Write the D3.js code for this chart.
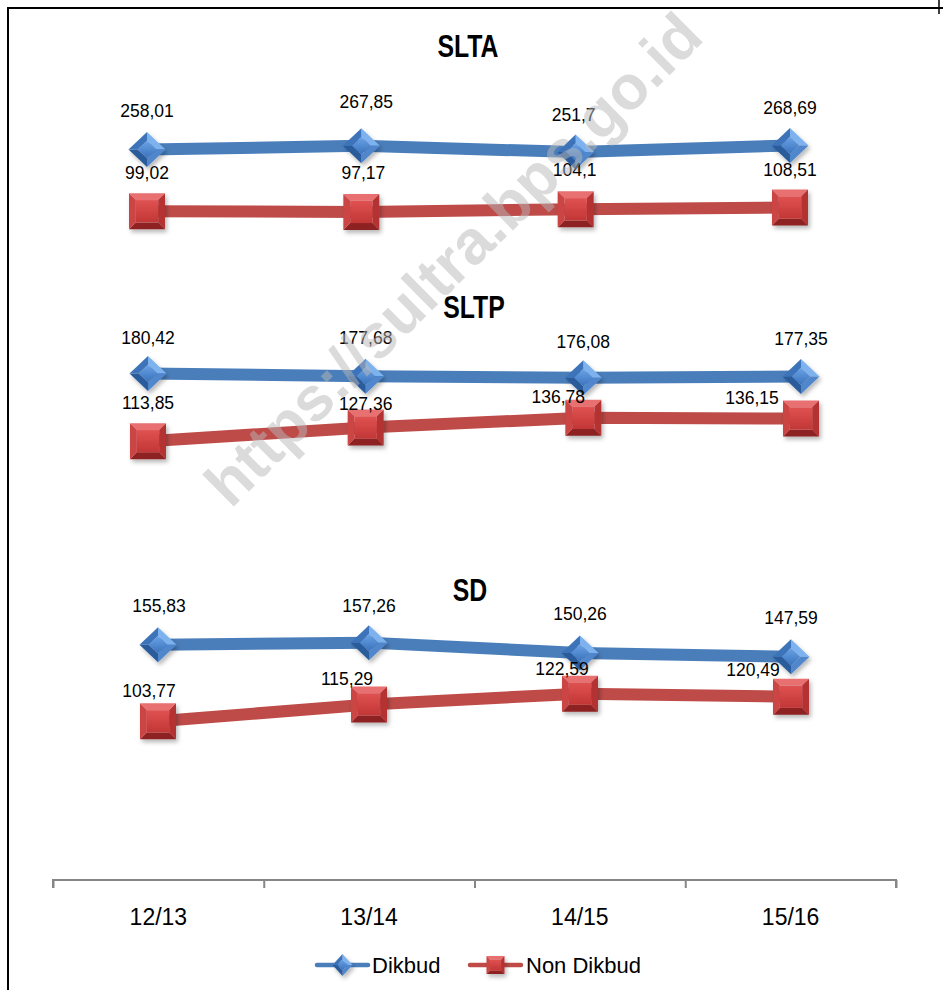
<!DOCTYPE html>
<html>
<head>
<meta charset="utf-8">
<script src="https://cdn.jsdelivr.net/npm/d3@7/dist/d3.min.js"></script>
<style>
  body { margin: 0; background: #fff; }
  svg { display: block; }
</style>
</head>
<body>
<svg id="chart" width="943" height="990"></svg>
<script>
// School-year categories shared by all three panels
const categories = ["12/13", "13/14", "14/15", "15/16"];
const seriesNames = ["Dikbud", "Non Dikbud"];
const panelTitles = ["SLTA", "SLTP", "SD"];

// Values per school level
const sltaDikbud    = [258.01, 267.85, 251.7, 268.69];
const sltaNonDikbud = [99.02, 97.17, 104.1, 108.51];
const sltpDikbud    = [180.42, 177.68, 176.08, 177.35];
const sltpNonDikbud = [113.85, 127.36, 136.78, 136.15];
const sdDikbud      = [155.83, 157.26, 150.26, 147.59];
const sdNonDikbud   = [103.77, 115.29, 122.59, 120.49];

// Each panel has its own value axis (hidden)
const yDomains = [[0, 300], [100, 200], [100, 160]];

const panelValues = [
  [sltaDikbud, sltaNonDikbud],
  [sltpDikbud, sltpNonDikbud],
  [sdDikbud, sdNonDikbud]
];

// ---- layout ----
const W = 943, H = 990;
const panelLayout = [
  { title: [468, 46], xRange: [147, 790], yRange: [249.6, 133.35],
    labelOffsets: [[[0,-39],[5,-44],[-2,-37],[0,-38]], [[0,-38],[2,-39],[-1,-39],[0,-38]]] },
  { title: [474, 307], xRange: [148, 801], yRange: [455.3, 353.5],
    labelOffsets: [[[0,-36],[0,-38],[0,-36],[0,-38]], [[0,-38],[0,-24],[-25,-21],[-49,-21]]] },
  { title: [470, 590], xRange: [158, 791], yRange: [726.9, 638.6],
    labelOffsets: [[[1,-39],[0,-37],[0,-39],[0,-39]], [[-9,-30],[-22,-26],[-18,-25],[-38,-27]]] }
];
const lineColors = ["#4a7ebb", "#be4b48"];
const axisY = 880;
const axisRange = [53, 896];

const svg = d3.select("#chart");
const defs = svg.append("defs");

// soft shadow under markers
const shadow = defs.append("filter").attr("id", "mshadow")
  .attr("x", "-40%").attr("y", "-40%").attr("width", "180%").attr("height", "180%");
shadow.append("feDropShadow").attr("dx", 2).attr("dy", 3).attr("stdDeviation", 2)
  .attr("flood-color", "#000").attr("flood-opacity", 0.28);

function linGrad(id, c1, c2) {
  const g = defs.append("linearGradient").attr("id", id)
    .attr("x1", 0).attr("y1", 0).attr("x2", 0).attr("y2", 1);
  g.append("stop").attr("offset", "0%").attr("stop-color", c1);
  g.append("stop").attr("offset", "100%").attr("stop-color", c2);
}
linGrad("blueFace", "#6aa2e6", "#3a72bb");
linGrad("redFace", "#e05252", "#c23636");

// bevelled diamond: outer rim split into four facets + flat inner face
function drawDiamond(g, cx, cy, rx, ry) {
  const k = 0.5;
  const o = [[0,-ry],[rx,0],[0,ry],[-rx,0]];
  const i = o.map(p => [p[0]*k, p[1]*k]);
  const facetCols = ["#7db2ee", "#4f86cc", "#2a5b9b", "#3d73b8"];
  const m = g.append("g").attr("transform", `translate(${cx},${cy})`).attr("filter", "url(#mshadow)");
  for (let n = 0; n < 4; n++) {
    const a = o[n], b = o[(n+1)%4], c = i[(n+1)%4], d = i[n];
    m.append("path").attr("d", d3.line()([a, b, c, d]) + "Z").attr("fill", facetCols[n]);
  }
  m.append("path").attr("d", d3.line()(i) + "Z").attr("fill", "url(#blueFace)");
}

// bevelled square
function drawSquare(g, cx, cy, s) {
  const h = s / 2, ih = h * 0.62;
  const o = [[-h,-h],[h,-h],[h,h],[-h,h]];
  const i = [[-ih,-ih],[ih,-ih],[ih,ih],[-ih,ih]];
  const facetCols = ["#e97070", "#b53232", "#8e2222", "#cc4444"];
  const m = g.append("g").attr("transform", `translate(${cx},${cy})`).attr("filter", "url(#mshadow)");
  for (let n = 0; n < 4; n++) {
    const a = o[n], b = o[(n+1)%4], c = i[(n+1)%4], d = i[n];
    m.append("path").attr("d", d3.line()([a, b, c, d]) + "Z").attr("fill", facetCols[n]);
  }
  m.append("path").attr("d", d3.line()(i) + "Z").attr("fill", "url(#redFace)");
}

const fmt = v => String(v).replace(".", ",");
const labelFont = "'Liberation Sans', Arial, sans-serif";

// border
svg.append("path")
  .attr("d", `M8,${H+2} L8,8 L${W+2},8`)
  .attr("fill", "none").attr("stroke", "#000").attr("stroke-width", 2);
svg.append("line").attr("x1", 939).attr("x2", 939).attr("y1", 0).attr("y2", 14)
  .attr("stroke", "#000").attr("stroke-width", 1.5);

// panels
panelValues.forEach((pair, p) => {
  const L = panelLayout[p];
  const x = d3.scalePoint().domain(categories).range(L.xRange);
  const y = d3.scaleLinear().domain(yDomains[p]).range(L.yRange);
  const g = svg.append("g");

  // condensed bold title
  g.append("text")
    .attr("transform", `translate(${L.title[0]},${L.title[1]}) scale(0.8,1)`)
    .attr("dy", "0.35em")
    .attr("text-anchor", "middle")
    .attr("font-family", labelFont)
    .attr("font-weight", "bold").attr("font-size", 31)
    .text(panelTitles[p]);

  const line = d3.line().x((d, i) => x(categories[i])).y(d => y(d));

  pair.forEach((vals, s) => {
    g.append("path").datum(vals)
      .attr("d", line)
      .attr("fill", "none")
      .attr("stroke", lineColors[s])
      .attr("stroke-width", 12)
      .attr("stroke-linejoin", "round");
  });

  pair.forEach((vals, s) => {
    vals.forEach((v, i) => {
      const cx = x(categories[i]), cy = y(v);
      if (s === 0) drawDiamond(g, cx, cy, 18.5, 17.5);
      else drawSquare(g, cx, cy, 36);
    });
  });

  pair.forEach((vals, s) => {
    vals.forEach((v, i) => {
      const off = L.labelOffsets[s][i];
      g.append("text")
        .attr("x", x(categories[i]) + off[0])
        .attr("y", y(v) + off[1])
        .attr("dy", "0.35em")
        .attr("text-anchor", "middle")
        .attr("font-family", labelFont)
        .attr("font-size", 17.5)
        .attr("fill", "#000")
        .text(fmt(v));
    });
  });
});

// category axis: boundary ticks plus centred labels
const xBand = d3.scaleBand().domain(categories).range(axisRange);
const xEdges = d3.scaleLinear().domain([0, categories.length]).range(axisRange);
const axisG = svg.append("g").attr("transform", `translate(0,${axisY})`)
  .call(d3.axisBottom(xEdges).ticks(categories.length).tickSize(8).tickSizeOuter(8).tickFormat(""));
axisG.selectAll("path, line").attr("stroke", "#868686").attr("stroke-width", 2);
axisG.select(".domain").attr("d", `M${axisRange[0]},8V0H${axisRange[1]}V8`);

const labelG = svg.append("g").attr("transform", `translate(0,${axisY})`)
  .call(d3.axisBottom(xBand).tickSize(0));
labelG.select(".domain").remove();
labelG.selectAll("text")
  .attr("y", 37).attr("dy", "0.35em")
  .attr("font-family", labelFont).attr("font-size", 23).attr("fill", "#000");

// legend
const legend = svg.append("g").attr("transform", "translate(0,965)");
const legendItems = [
  { x0: 317, x1: 368, tx: 372 },
  { x0: 470, x1: 521, tx: 526 }
];
seriesNames.forEach((name, s) => {
  const it = legendItems[s];
  legend.append("line").attr("x1", it.x0).attr("x2", it.x1).attr("y1", 0).attr("y2", 0)
    .attr("stroke", lineColors[s]).attr("stroke-width", 4.5).attr("stroke-linecap", "round");
  const cx = (it.x0 + it.x1) / 2;
  if (s === 0) drawDiamond(legend, cx, 0, 10, 11);
  else drawSquare(legend, cx, 0, 18);
  legend.append("text").attr("x", it.tx).attr("y", 0).attr("dy", "0.35em")
    .attr("font-family", labelFont).attr("font-size", 22).attr("fill", "#000")
    .text(name);
});

// site watermark
svg.append("text")
  .attr("transform", "translate(453,259) rotate(-44.7)")
  .attr("text-anchor", "middle").attr("dy", "0.35em")
  .attr("font-family", labelFont).attr("font-weight", "bold").attr("font-size", 62)
  .attr("fill", "#b8b8b8").attr("fill-opacity", 0.5)
  .text("https://sultra.bps.go.id");
</script>
</body>
</html>
